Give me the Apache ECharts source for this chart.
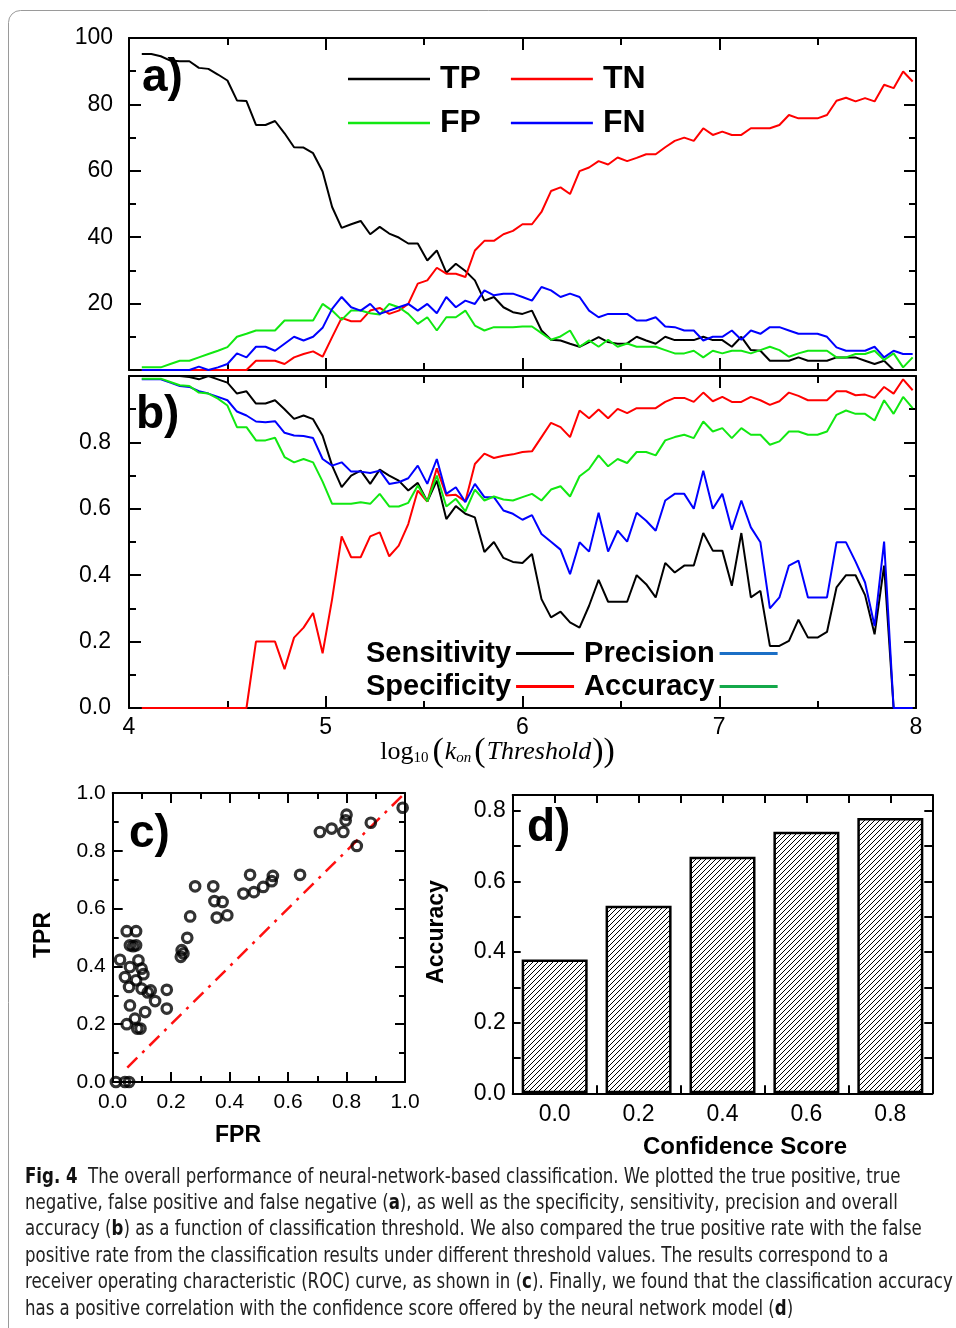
<!DOCTYPE html>
<html>
<head>
<meta charset="utf-8">
<script src="https://cdn.jsdelivr.net/npm/echarts@6/dist/echarts.min.js"></script>
<style>
html,body{margin:0;padding:0;background:#fff;}
#chart{width:956px;height:1328px;}
</style>
</head>
<body>
<div id="chart"></div>
<script>
// ---------- DATA ----------
// threshold grid, log10(k_on)
const thresholdStart = 4.065;
const thresholdStep = 0.04837;
const thresholdCount = 82;
const logK = Array.from({length: thresholdCount}, (_, i) => +(thresholdStart + i * thresholdStep).toFixed(4));

// panel a (counts, %)
const TP = [95.2,95.2,94.5,93.2,93,93,91,90.7,89,87.2,81.2,81,73.8,73.8,75,71.3,67.1,67,65.3,59.8,
  49.1,42.8,43.9,44.9,40.9,43.1,41.1,39.9,38.1,38.1,33,36,29.3,32,29.8,27,20.9,22,18.9,17.4,
  16.9,17.9,11.9,9.1,8.9,7.9,7,8.4,9.9,8.4,7.9,8,10,8.9,7.9,10,9,9,9,10,
  9,9,7,10,6,5.8,2.8,2.8,2.8,3.8,2.8,2.8,2.8,3.8,3.8,3.8,2.8,1.8,2.8,0,0,0];
const TN = [0,0,0,0,0,0,0,0,0,0,0,0,2.8,2.8,2.8,1.8,3.8,4.8,5.6,4,
  9.9,15.7,14.7,14.7,17.9,18.7,16.9,17.9,19.9,26,27,30.8,29,29,28,36,38.9,38.9,40.9,41.9,
  43.9,43.9,47.6,53.9,55,53,59.9,61,62.9,61.9,64,62.9,63.9,65,65,67.1,69,70,69,72.8,
  70.8,71.8,70.8,70.8,72.8,72.8,72.8,73.8,76.8,75.8,75.8,75.8,76.8,81.1,82,80.9,81.9,80.9,85.9,84.9,89.9,86.9];
const FP = [0.8,0.8,0.8,1.8,2.8,2.8,3.8,4.8,5.8,6.9,10,10.9,11.9,11.9,11.9,14.9,14.9,14.9,14.9,19.9,
  17.9,15.1,17.9,17.9,17.1,16.7,19.9,18.9,16.9,13.9,15.9,11.9,15.9,15.9,17.9,13.4,11.9,12.9,12.9,12.9,
  13.1,13.1,11.1,9.1,10.1,11.9,7,8.9,7,9.1,7,8,7,7,7,6,5,5,5.8,3.8,
  5.8,5,5.8,5.8,5,6,7,6,4,5,5.8,5.8,5.8,3.8,3.8,4.8,4.8,5.8,3,5,0.8,3.8];
const FN = [0,0,0,0,0,0,1,0,0.8,1.8,5,3.8,7,7,5.8,7.9,10,8.9,10,12.7,
  18.4,22,18.9,17.9,19.9,16.9,17.9,18.9,19.9,17.9,19.9,17.1,22,18.9,20.9,19.9,24,22.5,23,23,
  22,20.9,25,24,22,23,22,17.9,15.9,16.9,16.9,16.9,14.9,14.9,15.9,13.1,12.9,11.9,11.9,8.9,
  10,10,11.9,9.1,11.9,10.9,12.9,12.9,11.9,10.9,10.9,10.9,10,6.8,5.8,5.8,5.8,7,3.8,5.8,4.8,4.8];

// panel b (rates)
const sensitivity = [1,1,1,1,1,0.997,0.99,1,0.99,0.98,0.947,0.954,0.917,0.917,0.927,0.9,0.871,0.881,0.87,0.82,
  0.73,0.665,0.7,0.715,0.675,0.718,0.7,0.685,0.655,0.678,0.622,0.685,0.569,0.608,0.585,0.574,0.47,0.5,0.452,0.44,
  0.437,0.464,0.328,0.273,0.29,0.258,0.242,0.308,0.386,0.32,0.32,0.32,0.4,0.373,0.333,0.437,0.408,0.429,0.429,0.527,
  0.474,0.474,0.368,0.527,0.333,0.353,0.187,0.187,0.202,0.266,0.212,0.212,0.229,0.363,0.4,0.4,0.34,0.222,0.429,0,0,0];
const specificity = [0,0,0,0,0,0,0,0,0,0,0,0,0.2,0.2,0.2,0.117,0.212,0.242,0.286,0.165,
  0.328,0.517,0.454,0.454,0.517,0.529,0.457,0.489,0.554,0.655,0.622,0.722,0.64,0.642,0.622,0.735,0.766,0.753,0.76,0.764,
  0.771,0.773,0.816,0.859,0.846,0.816,0.896,0.873,0.899,0.873,0.901,0.888,0.903,0.903,0.903,0.922,0.934,0.934,0.922,0.95,
  0.924,0.937,0.922,0.922,0.937,0.927,0.913,0.924,0.95,0.94,0.927,0.927,0.927,0.954,0.954,0.942,0.944,0.934,0.967,0.947,0.99,0.957];
const precision = [0.99,0.99,0.99,0.98,0.97,0.967,0.954,0.947,0.937,0.927,0.893,0.881,0.863,0.861,0.864,0.829,0.821,0.819,0.813,0.75,
  0.73,0.74,0.712,0.712,0.708,0.715,0.675,0.68,0.692,0.73,0.675,0.75,0.645,0.665,0.62,0.675,0.635,0.635,0.595,0.585,
  0.567,0.581,0.524,0.501,0.477,0.403,0.499,0.471,0.588,0.471,0.534,0.501,0.588,0.564,0.534,0.625,0.645,0.645,0.6,0.715,
  0.6,0.645,0.537,0.625,0.544,0.499,0.3,0.333,0.429,0.444,0.333,0.333,0.333,0.499,0.499,0.441,0.378,0.247,0.501,0,0,0];
const accuracy = [0.992,0.992,0.992,0.982,0.972,0.97,0.95,0.947,0.932,0.911,0.846,0.846,0.806,0.806,0.814,0.756,0.74,0.75,0.74,0.682,
  0.615,0.615,0.615,0.62,0.615,0.645,0.607,0.607,0.618,0.67,0.622,0.7,0.607,0.63,0.592,0.658,0.625,0.637,0.628,0.625,
  0.635,0.645,0.625,0.658,0.668,0.637,0.698,0.72,0.761,0.728,0.75,0.738,0.771,0.771,0.761,0.806,0.816,0.823,0.813,0.863,
  0.833,0.843,0.813,0.843,0.823,0.823,0.793,0.803,0.833,0.833,0.823,0.823,0.833,0.883,0.896,0.886,0.886,0.866,0.927,0.886,0.937,0.903];

// panel c (ROC points)
const FPR = [0.992,0.800,0.797,0.709,0.749,0.789,0.883,0.835,0.641,0.470,0.447,0.483,0.515,0.544,0.548,
  0.282,0.344,0.348,0.376,0.356,0.392,0.265,0.255,0.236,0.233,0.242,
  0.025,0.042,0.056,0.048,0.080,0.059,0.080,0.059,0.088,0.099,0.105,0.080,0.099,0.130,0.145,0.185,0.185,
  0.059,0.111,0.048,0.076,0.084,0.095,0.011,0.042,0.056,0.070,0.120];
const TPR = [0.949,0.925,0.905,0.865,0.877,0.865,0.897,0.817,0.717,0.717,0.652,0.657,0.675,0.695,0.713,
  0.677,0.677,0.626,0.623,0.569,0.577,0.573,0.499,0.456,0.433,0.445,
  0.423,0.363,0.329,0.522,0.522,0.473,0.473,0.398,0.421,0.392,0.373,0.352,0.323,0.317,0.280,0.319,0.254,
  0.265,0.242,0.200,0.219,0.185,0.185,0,0,0,0.470,0.310];
const diagonal = [[0.05, 0.05], [1, 1]];

// panel d
const confidenceScore = [0.0, 0.2, 0.4, 0.6, 0.8];
const confidenceAccuracy = [0.379, 0.531, 0.670, 0.741, 0.780];

// caption
const captionLines = [
  '{b|Fig. 4}  The overall performance of neural-network-based classification. We plotted the true positive, true',
  'negative, false positive and false negative ({b|a}), as well as the specificity, sensitivity, precision and overall',
  'accuracy ({b|b}) as a function of classification threshold. We also compared the true positive rate with the false',
  'positive rate from the classification results under different threshold values. The results correspond to a',
  'receiver operating characteristic (ROC) curve, as shown in ({b|c}). Finally, we found that the classification accuracy',
  'has a positive correlation with the confidence score offered by the neural network model ({b|d})'
];

// ---------- STYLE HELPERS ----------
const SANS = '"Liberation Sans", Arial, Helvetica, sans-serif';
const SERIF = '"Liberation Serif", "Times New Roman", serif';

function ax(opts) {
  return {
    type: 'value',
    axisLine: {show: true, onZero: false, lineStyle: {color: '#000', width: 2}},
    axisTick: {show: true, inside: true, length: opts.tickLen || 12, lineStyle: {color: '#000', width: 2}},
    minorTick: {show: opts.minor !== 0, splitNumber: opts.minor || 2, length: opts.minorLen || 7, lineStyle: {color: '#000', width: 2}},
    splitLine: {show: false},
    minorSplitLine: {show: false},
    axisLabel: {show: !!opts.labels, color: '#000', fontSize: opts.fontSize || 23, fontFamily: SANS,
      margin: opts.margin || 8, formatter: opts.formatter, showMinLabel: true, showMaxLabel: true},
    min: opts.min, max: opts.max, interval: opts.interval,
    gridIndex: opts.grid, position: opts.position
  };
}

function hatchPattern() {
  const s = 5;
  const c = document.createElement('canvas');
  c.width = s; c.height = s;
  const g = c.getContext('2d');
  g.fillStyle = '#fff'; g.fillRect(0, 0, s, s);
  g.strokeStyle = '#000'; g.lineWidth = 1;
  g.beginPath();
  g.moveTo(0, s); g.lineTo(s, 0);
  g.moveTo(-1, 1); g.lineTo(1, -1);
  g.moveTo(s - 1, s + 1); g.lineTo(s + 1, s - 1);
  g.stroke();
  return c;
}

const yFmtA = v => (v === 0 ? '' : String(v));
const yFmtB = v => (v > 0.95 ? '' : v.toFixed(1));
const fmt1 = v => v.toFixed(1);
const evenTenths = (lo, hi) => v => {
  const k = Math.round(v * 10);
  if (Math.abs(v * 10 - k) > 1e-6) return '';
  return (k % 2 === 0 && k >= lo && k <= hi) ? (k / 10).toFixed(1) : '';
};

const grids = [
  {left: 129, top: 38, width: 787, height: 332},
  {left: 129, top: 376, width: 787, height: 332},
  {left: 112.7, top: 793, width: 292.3, height: 289},
  {left: 512.7, top: 795, width: 419.6, height: 298.3}
];

const xAxes = [
  ax({grid: 0, position: 'bottom', min: 4, max: 8, interval: 1}),
  ax({grid: 0, position: 'top', min: 4, max: 8, interval: 1}),
  ax({grid: 1, position: 'bottom', min: 4, max: 8, interval: 1, labels: true, margin: 8}),
  ax({grid: 1, position: 'top', min: 4, max: 8, interval: 1}),
  ax({grid: 2, position: 'bottom', min: 0, max: 1, interval: 0.2, labels: true, fontSize: 21, margin: 10, formatter: fmt1, tickLen: 10, minorLen: 6}),
  ax({grid: 2, position: 'top', min: 0, max: 1, interval: 0.2, tickLen: 10, minorLen: 6}),
  ax({grid: 3, position: 'bottom', min: -0.1, max: 0.9, interval: 0.1, minor: 0, labels: true, fontSize: 23, margin: 10, formatter: evenTenths(0, 8), tickLen: 8}),
  ax({grid: 3, position: 'top', min: -0.1, max: 0.9, interval: 0.1, minor: 0, tickLen: 8})
];
const yAxes = [
  ax({grid: 0, position: 'left', min: 0, max: 100, interval: 20, labels: true, margin: 16, formatter: yFmtA}),
  ax({grid: 0, position: 'right', min: 0, max: 100, interval: 20}),
  ax({grid: 1, position: 'left', min: 0, max: 1, interval: 0.2, labels: true, margin: 18, formatter: yFmtB}),
  ax({grid: 1, position: 'right', min: 0, max: 1, interval: 0.2}),
  ax({grid: 2, position: 'left', min: 0, max: 1, interval: 0.2, labels: true, fontSize: 21, margin: 7, formatter: fmt1, tickLen: 10, minorLen: 6}),
  ax({grid: 2, position: 'right', min: 0, max: 1, interval: 0.2, tickLen: 10, minorLen: 6}),
  ax({grid: 3, position: 'left', min: 0, max: 0.845, interval: 0.1, minor: 0, labels: true, fontSize: 23, margin: 7, formatter: evenTenths(0, 8), tickLen: 8}),
  ax({grid: 3, position: 'right', min: 0, max: 0.845, interval: 0.1, minor: 0, tickLen: 8})
];

function lineSeries(name, vals, color, xi, yi) {
  return {
    name: name, type: 'line', xAxisIndex: xi, yAxisIndex: yi,
    data: logK.map((x, i) => [x, vals[i]]),
    showSymbol: false, symbol: 'none',
    lineStyle: {color: color, width: 2}, itemStyle: {color: color},
    z: 3
  };
}

const series = [
  lineSeries('TP', TP, '#000000', 0, 0),
  lineSeries('TN', TN, '#ff0000', 0, 0),
  lineSeries('FP', FP, '#11e811', 0, 0),
  lineSeries('FN', FN, '#0000ff', 0, 0),
  lineSeries('Sensitivity', sensitivity, '#000000', 2, 2),
  lineSeries('Specificity', specificity, '#ff0000', 2, 2),
  lineSeries('Precision', precision, '#0000ff', 2, 2),
  lineSeries('Accuracy', accuracy, '#11e811', 2, 2),
  {
    name: 'ROC', type: 'scatter', xAxisIndex: 4, yAxisIndex: 4,
    data: FPR.map((f, i) => [f, TPR[i]]),
    symbol: 'circle', symbolSize: 9.5, clip: true,
    itemStyle: {color: 'rgba(255,255,255,0)', borderColor: '#000', borderWidth: 3.2},
    z: 4
  },
  {
    name: 'diag', type: 'line', xAxisIndex: 4, yAxisIndex: 4,
    data: diagonal, showSymbol: false, symbol: 'none',
    lineStyle: {color: '#ff1010', width: 2.5, type: [14, 7, 3, 7]}, z: 3
  },
  {
    name: 'AccBar', type: 'bar', xAxisIndex: 6, yAxisIndex: 6,
    data: confidenceScore.map((c, i) => [c, confidenceAccuracy[i]]),
    barWidth: 66,
    itemStyle: {color: {image: hatchPattern(), repeat: 'repeat'}, borderColor: '#000', borderWidth: 2.5},
    z: 2
  }
];

const legendA = {
  icon: 'rect', itemWidth: 82, itemHeight: 2.5, itemGap: 30, padding: 0,
  selectedMode: false,
  textStyle: {fontSize: 32, fontWeight: 'bold', color: '#000', fontFamily: SANS, padding: [0, 0, 0, 5]}
};
const legendB = {
  icon: 'rect', itemWidth: 58, itemHeight: 3, itemGap: 10, padding: 0, align: 'right',
  selectedMode: false,
  textStyle: {fontSize: 29, fontWeight: 'bold', color: '#000', fontFamily: SANS}
};

const legends = [
  Object.assign({left: 348, top: 63, data: ['TP', 'TN']}, legendA),
  Object.assign({left: 348, top: 107, data: ['FP', 'FN']}, legendA),
  Object.assign({left: 366, top: 639, data: [{name: 'Sensitivity'}, {name: 'Precision', itemStyle: {color: '#1b6fc6'}}]}, legendB),
  Object.assign({left: 366, top: 672, data: [{name: 'Specificity'}, {name: 'Accuracy', itemStyle: {color: '#14a84a'}}]}, legendB)
];

const panelLabel = (t, x, y) => ({
  type: 'text', left: x, top: y, z: 20,
  style: {text: t, fill: '#000', font: 'bold 46px ' + SANS}
});

// caption font and horizontal fit
const CAPFONT = '"Liberation Sans Narrow", "DejaVu Sans Condensed", sans-serif';
const CAPSIZE = 20.5;
const measureCtx = document.createElement('canvas').getContext('2d');
measureCtx.font = CAPSIZE + 'px ' + CAPFONT;
const plainLine5 = captionLines[4].replace(/\{b\|([^}]*)\}/g, '$1');
const capScaleX = Math.min(1, 927 / measureCtx.measureText(plainLine5).width);

const graphic = [
  {type: 'rect', shape: {x: 8.5, y: 10.5, width: 1000, height: 1400, r: 12},
   style: {fill: 'none', stroke: '#9a9a9a', lineWidth: 1}, z: 0, silent: true},
  panelLabel('a)', 142, 55),
  panelLabel('b)', 136, 392),
  panelLabel('c)', 129, 811),
  panelLabel('d)', 527, 805),
  {type: 'text', x: 498, y: 752, z: 20,
   style: {
     text: '{r|log}{s|10}{p|(}{i|k}{si|on}{p|(}{i|Threshold}{p|))}',
     align: 'center', verticalAlign: 'middle', fill: '#000',
     rich: {
       r: {fontFamily: SERIF, fontSize: 26, lineHeight: 36, verticalAlign: 'middle'},
       s: {fontFamily: SERIF, fontSize: 15, lineHeight: 14, verticalAlign: 'bottom', padding: [0, 3, 4, 0]},
       p: {fontFamily: SERIF, fontSize: 34, lineHeight: 36, verticalAlign: 'middle', padding: [0, 1, 0, 1]},
       i: {fontFamily: SERIF, fontSize: 26, fontStyle: 'italic', lineHeight: 36, verticalAlign: 'middle'},
       si: {fontFamily: SERIF, fontSize: 15, fontStyle: 'italic', lineHeight: 14, verticalAlign: 'bottom', padding: [0, 2, 4, 0]}
     }
   }},
  {type: 'text', x: 44, y: 935, rotation: Math.PI / 2, z: 20,
   style: {text: 'TPR', font: 'bold 23px ' + SANS, fill: '#000', align: 'center', verticalAlign: 'middle'}},
  {type: 'text', x: 238, y: 1136, z: 20,
   style: {text: 'FPR', font: 'bold 23px ' + SANS, fill: '#000', align: 'center', verticalAlign: 'middle'}},
  {type: 'text', x: 437, y: 932, rotation: Math.PI / 2, z: 20,
   style: {text: 'Accuracy', font: 'bold 23px ' + SANS, fill: '#000', align: 'center', verticalAlign: 'middle'}},
  {type: 'text', x: 745, y: 1147, z: 20,
   style: {text: 'Confidence Score', font: 'bold 24px ' + SANS, fill: '#000', align: 'center', verticalAlign: 'middle'}},
  {type: 'text', x: 25, y: 1164, scaleX: capScaleX, scaleY: 1, z: 20,
   style: {
     text: captionLines.join('\n'), fill: '#222', fontFamily: CAPFONT, fontSize: CAPSIZE, lineHeight: 26.4,
     rich: {b: {fontFamily: CAPFONT, fontSize: CAPSIZE, fontWeight: 'bold', lineHeight: 26.4, fill: '#111'}}
   }}
];

const chart = echarts.init(document.getElementById('chart'), null, {renderer: 'canvas'});
chart.setOption({
  animation: false,
  backgroundColor: '#fff',
  grid: grids,
  xAxis: xAxes,
  yAxis: yAxes,
  legend: legends,
  series: series,
  graphic: graphic
});
</script>
</body>
</html>
